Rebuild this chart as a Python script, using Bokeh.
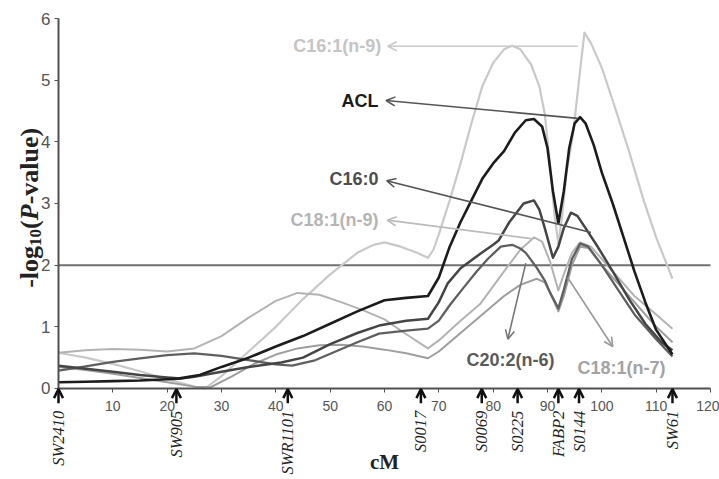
import math
from bokeh.plotting import figure
from bokeh.models import Range1d, LinearAxis, FixedTicker, Arrow, OpenHead, ColumnDataSource
from bokeh.core.properties import value
from bokeh.embed import file_html
from bokeh.resources import INLINE

# ---------------- data ----------------
x_ticks = [0, 10, 20, 30, 40, 50, 60, 70, 80, 90, 100, 110, 120]
y_ticks = [0, 1, 2, 3, 4, 5, 6]
threshold = 2.0

marker_names = ["SW2410", "SW905", "SWR1101", "S0017", "S0069", "S0225", "FABP2", "S0144", "SW61"]
marker_cm = [0.0, 21.7, 42.2, 66.7, 77.9, 84.5, 92.0, 95.8, 113.0]

c161_x = [0, 5, 10, 15, 20, 25, 27, 30, 35, 40, 45, 50, 55, 58, 60, 63, 66, 68, 69, 70, 72, 74, 76, 77, 78, 80, 82, 83.5, 85, 87, 88.5, 89.5, 90.5, 91.3, 92, 92.7, 93.5, 94.7, 95.8, 96.8, 98, 100, 102, 105, 107.7, 110, 113]
c161_y = [0.58, 0.5, 0.4, 0.28, 0.15, 0.03, 0.0, 0.2, 0.6, 1.0, 1.45, 1.85, 2.2, 2.33, 2.37, 2.3, 2.2, 2.12, 2.25, 2.5, 3.05, 3.65, 4.3, 4.6, 4.9, 5.28, 5.5, 5.56, 5.5, 5.25, 4.9, 4.45, 3.6, 2.8, 2.35, 2.8, 3.5, 4.13, 5.0, 5.77, 5.6, 5.2, 4.67, 3.85, 3.05, 2.45, 1.78]

acl_x = [0, 5, 10, 15, 20, 22, 26, 30, 35, 40, 45, 50, 55, 60, 64, 68, 70, 72, 74, 76, 78, 80, 82, 84, 86, 87.5, 89, 90, 91, 92, 93, 94, 95, 96, 97, 98.5, 100, 102, 104, 106, 108, 110, 113]
acl_y = [0.10, 0.11, 0.12, 0.13, 0.15, 0.16, 0.22, 0.35, 0.5, 0.68, 0.85, 1.05, 1.25, 1.43, 1.47, 1.5, 1.8, 2.3, 2.7, 3.05, 3.4, 3.65, 3.85, 4.15, 4.35, 4.37, 4.25, 3.9, 3.2, 2.68, 3.2, 3.9, 4.3, 4.4, 4.3, 3.95, 3.5, 3.0, 2.45, 1.9, 1.4, 0.95, 0.55]

c160_x = [0, 5, 10, 15, 20, 22.5, 25, 30, 35, 41, 45, 50, 55, 59, 64, 68, 70, 71.6, 74, 77.7, 80, 81, 83, 85.6, 87.5, 88.5, 89.5, 91, 92, 93, 94.3, 95.5, 97, 99.3, 102, 105, 108, 111, 113]
c160_y = [0.37, 0.32, 0.27, 0.22, 0.18, 0.16, 0.19, 0.27, 0.35, 0.42, 0.5, 0.72, 0.9, 1.02, 1.1, 1.13, 1.4, 1.7, 1.95, 2.19, 2.33, 2.4, 2.7, 3.0, 3.05, 2.9, 2.6, 2.12, 2.3, 2.6, 2.85, 2.8, 2.6, 2.29, 1.9, 1.45, 1.05, 0.75, 0.62]

c181n9_x = [0, 5, 10, 15, 20, 25, 30, 35, 40, 44, 48, 52, 56, 60, 64, 68, 70, 74, 77.7, 82, 85, 87.5, 89, 90.5, 92, 93, 94.5, 96, 98, 100, 103, 106, 110, 113]
c181n9_y = [0.58, 0.62, 0.64, 0.63, 0.6, 0.65, 0.85, 1.15, 1.42, 1.55, 1.52, 1.4, 1.27, 1.12, 0.88, 0.65, 0.78, 1.1, 1.38, 1.9, 2.25, 2.45, 2.38, 2.05, 1.59, 1.85, 2.2, 2.37, 2.3, 2.1, 1.8, 1.5, 1.2, 0.97]

c202_x = [0, 5, 10, 15, 20, 25, 30, 35, 40, 43, 47, 51, 55, 59, 64, 68, 70, 72, 74.6, 77, 79, 81.4, 83.5, 85, 86, 88, 89.5, 90.5, 92, 93, 94.5, 96, 97.5, 100, 103, 106, 110, 113]
c202_y = [0.29, 0.36, 0.43, 0.49, 0.54, 0.57, 0.53, 0.46, 0.39, 0.37, 0.45, 0.6, 0.75, 0.89, 0.94, 0.97, 1.1, 1.35, 1.64, 1.9, 2.1, 2.3, 2.33, 2.27, 2.2, 1.96, 1.75, 1.55, 1.3, 1.6, 2.1, 2.35, 2.3, 2.0, 1.6, 1.2, 0.8, 0.52]

c181n7_x = [0, 5, 10, 15, 20, 25, 28, 32, 36, 40, 44, 48, 52, 56, 60, 64, 68, 70, 74, 78, 82, 85, 88, 89.5, 91, 92, 93, 94.5, 96, 97.5, 100, 103, 106, 110, 113]
c181n7_y = [0.35, 0.3, 0.24, 0.17, 0.1, 0.03, 0.02, 0.2, 0.4, 0.55, 0.65, 0.7, 0.71, 0.68, 0.63, 0.57, 0.49, 0.6, 0.9, 1.2, 1.5, 1.68, 1.78, 1.72, 1.45, 1.25, 1.5, 2.0, 2.3, 2.28, 2.0, 1.7, 1.4, 1.0, 0.75]

series_names = ["C16:1(n-9)", "ACL", "C16:0", "C18:1(n-9)", "C20:2(n-6)", "C18:1(n-7)"]

# ---------------- styling / layout ----------------
W, H = 719, 479
XR = (-10.675, 121.656)
YR = (-1.476, 6.292)
PX_PER_Y = H / (YR[1] - YR[0])
DATA_PER_PX_X = (XR[1] - XR[0]) / W

p = figure(width=W, height=H, x_range=Range1d(*XR), y_range=Range1d(*YR),
           x_axis_location=None, y_axis_location=None,
           output_backend="svg", toolbar_location=None, min_border=0)
p.outline_line_color = None
p.grid.visible = False
p.background_fill_color = "white"

axis_col = "#505050"
xax = LinearAxis(fixed_location=0, bounds=(0, 120), ticker=FixedTicker(ticks=x_ticks))
xax.axis_line_color = axis_col
xax.axis_line_width = 2
xax.major_tick_line_color = axis_col
xax.major_tick_out = 4
xax.major_tick_in = 0
xax.minor_tick_line_color = None
xax.major_label_text_font = "Liberation Sans"
xax.major_label_text_font_size = "14px"
xax.major_label_text_color = "#555555"
xax.major_label_standoff = 9
xax.major_label_overrides = {0: ""}
xax.axis_label = "cM"
xax.axis_label_text_font = "Liberation Serif"
xax.axis_label_text_font_style = "bold"
xax.axis_label_text_font_size = "21px"
xax.axis_label_text_color = "#222222"
xax.axis_label_standoff = 35
p.add_layout(xax, "below")

yax = LinearAxis(fixed_location=0, bounds=(0, 6), ticker=FixedTicker(ticks=y_ticks))
yax.axis_line_color = axis_col
yax.axis_line_width = 2
yax.major_tick_line_color = axis_col
yax.major_tick_out = 4
yax.major_tick_in = 0
yax.minor_tick_line_color = None
yax.major_label_text_font = "Liberation Sans"
yax.major_label_text_font_size = "17px"
yax.major_label_text_color = "#555555"
yax.major_label_standoff = 4
p.add_layout(yax, "left")

# threshold line
p.line(x=[x_ticks[0], x_ticks[-1]], y=[threshold, threshold], line_color="#707070", line_width=2)

# curves (light first, dark last)
curves = [
    (c161_x, c161_y, "#c9c9c9", 2.2),
    (c181n9_x, c181n9_y, "#b3b3b3", 2.0),
    (c181n7_x, c181n7_y, "#9e9e9e", 2.0),
    (c202_x, c202_y, "#5f5f5f", 2.3),
    (c160_x, c160_y, "#454545", 2.5),
    (acl_x, acl_y, "#1c1c1c", 2.6),
]
for xs, ys, col, lw in curves:
    p.line(x=xs, y=ys, line_color=col, line_width=lw, line_join="round")

# label annotations: (text, x, y, align, color, arrow_start, arrow_end, arrow_color)
labels = [
    ("C16:1(n-9)", 59.4, 5.55, "right", "#c4c4c4", (95.6, 5.55), (60.6, 5.55), "#cacaca"),
    ("ACL", 58.9, 4.67, "right", "#1a1a1a", (95.6, 4.38), (60.3, 4.67), "#555555"),
    ("C16:0", 58.9, 3.40, "right", "#4d4d4d", (98.0, 2.53), (60.4, 3.37), "#555555"),
    ("C18:1(n-9)", 58.9, 2.73, "right", "#b5b5b5", (87.0, 2.43), (60.5, 2.73), "#bbbbbb"),
    ("C20:2(n-6)", 83.2, 0.46, "center", "#5a5a5a", (86.0, 2.03), (82.7, 0.80), "#777777"),
    ("C18:1(n-7)", 103.6, 0.33, "center", "#a3a3a3", (93.7, 1.80), (102.0, 0.68), "#999999"),
]
for name, lx, ly, al, col, a0, a1, acol in labels:
    p.text(x=[lx], y=[ly], text=[name], text_align=al, text_baseline="middle",
           text_font=value("Liberation Sans"), text_font_style="bold",
           text_font_size="18px", text_color=col)
    p.add_layout(Arrow(x_start=a0[0], y_start=a0[1], x_end=a1[0], y_end=a1[1],
                       line_color=acol, line_width=1.6,
                       end=OpenHead(size=9, line_color=acol, line_width=1.6)))

# marker arrows below the axis
msrc = ColumnDataSource(dict(x=marker_cm,
                             y0=[-0.24] * len(marker_cm),
                             y1=[-0.01] * len(marker_cm)))
p.add_layout(Arrow(x_start="x", y_start="y0", x_end="x", y_end="y1", source=msrc,
                   line_color="#111111", line_width=2.5,
                   end=OpenHead(size=9, line_color="#111111", line_width=2.5)))
p.text(x=marker_cm, y=[-0.36] * len(marker_cm), text=marker_names, angle=math.pi / 2,
       text_align="right", text_baseline="middle",
       text_font=value("Liberation Serif"), text_font_style="italic",
       text_font_size="16.5px", text_color="#222222")

# y-axis title: -log10(P-value), composed of pieces, rotated
fs = 26.0
sub_fs = 17.0
pieces = [
    ("-log", fs, "bold", 0.333 + 0.278 + 0.5 + 0.5, 0.0),
    ("10", sub_fs, "bold", 1.0, 6.0),
    ("(", fs, "bold", 0.333, 0.0),
    ("P", fs, "bold italic", 0.611, 0.0),
    ("-value)", fs, "bold", 0.333 + 0.5 + 0.5 + 0.278 + 0.556 + 0.444 + 0.333, 0.0),
]
total_px = sum(w * s for _, s, _, w, _ in pieces)
center_y = 2.93
base_x = XR[0] + 29 * DATA_PER_PX_X
cur = center_y - total_px / 2 / PX_PER_Y
for txt, s, style, w, shift in pieces:
    p.text(x=[base_x + shift * DATA_PER_PX_X], y=[cur], text=[txt], angle=math.pi / 2,
           text_align="left", text_baseline="alphabetic",
           text_font=value("Liberation Serif"), text_font_style=style,
           text_font_size=f"{s}px", text_color="#222222")
    cur += w * s / PX_PER_Y

open("out.html", "w").write(file_html(p, INLINE))
